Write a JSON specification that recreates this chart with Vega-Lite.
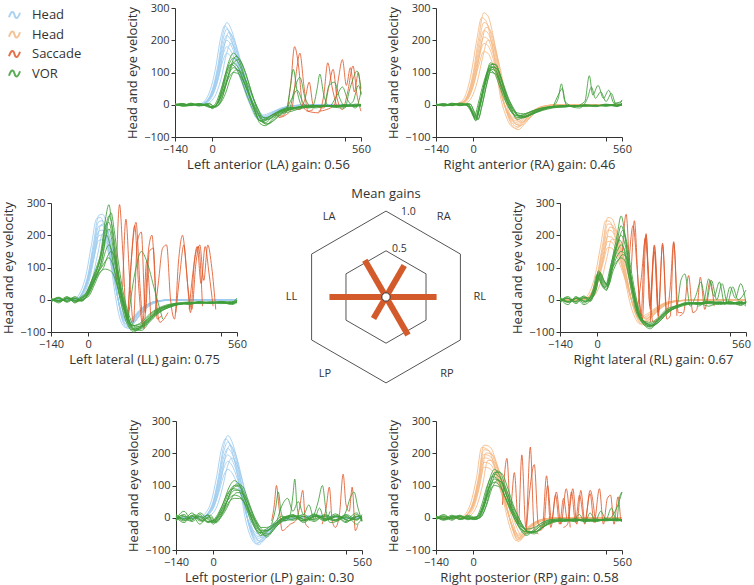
{
"$schema":"https://vega.github.io/schema/vega-lite/v6.json",
"padding":{"left":2,"top":2,"right":0,"bottom":3},
"config":{"font":"Open Sans","view":{"stroke":null},
 "axis":{"labelFont":"Open Sans","labelFontSize":11,"labelColor":"#333","titleFont":"Open Sans","titleFontSize":13,"titleFontWeight":"normal","titleColor":"#333","domainColor":"#333","tickColor":"#333","tickSize":4,"labelPadding":2,"grid":false,"labelFlush":false,"labelOverlap":false,"titlePadding":4},
 "legend":{"orient":"none","legendX":-43,"legendY":0.5,"symbolType":"M-1,0.4C-0.6,-0.8,-0.2,-0.8,0,0C0.2,0.8,0.6,0.8,1,-0.4","symbolSize":121,"symbolStrokeWidth":2,"labelFontSize":13,"labelColor":"#333","labelFont":"Open Sans","rowPadding":4.5,"labelOffset":11,"padding":0}
},
"datasets":{
"traces":[
{"p":"LA","t":"HeadL","k":"h1","x":[-140,-80,-40,-20,0,20,40,55,70,90,110,130,150,170,190,220,260,320,400,480,560],"y":[0,0,3,13,46,115,217,255,237,184,115,46,0,-38,-51,-38,-15,-3,0,0,0]},
{"p":"LA","t":"HeadL","k":"h2","x":[-140,-80,-40,-20,0,20,40,55,70,90,110,130,150,170,190,220,260,320,400,480,560],"y":[0,0,2,12,42,106,200,235,219,169,106,42,0,-35,-47,-35,-14,-2,0,0,0]},
{"p":"LA","t":"HeadL","k":"h3","x":[-140,-80,-40,-20,0,20,40,55,70,90,110,130,150,170,190,220,260,320,400,480,560],"y":[0,0,2,11,39,97,183,215,200,155,97,39,0,-32,-43,-32,-13,-2,0,0,0]},
{"p":"LA","t":"HeadL","k":"h4","x":[-140,-80,-40,-20,0,20,40,55,70,90,110,130,150,170,190,220,260,320,400,480,560],"y":[0,0,2,10,36,90,170,200,186,144,90,36,0,-30,-40,-30,-12,-2,0,0,0]},
{"p":"LA","t":"HeadL","k":"h5","x":[-140,-80,-40,-20,0,20,40,55,70,90,110,130,150,170,190,220,260,320,400,480,560],"y":[0,0,2,9,32,81,153,180,167,130,81,32,0,-27,-36,-27,-11,-2,0,0,0]},
{"p":"LA","t":"HeadL","k":"h6","x":[-140,-80,-40,-20,0,20,40,55,70,90,110,130,150,170,190,220,260,320,400,480,560],"y":[0,0,2,8,29,72,136,160,149,115,72,29,0,-24,-32,-24,-10,-2,0,0,0]},
{"p":"LA","t":"HeadL","k":"h7","x":[-140,-88,-48,-28,-8,12,32,47,62,82,102,122,142,162,182,212,252,312,392,472,560],"y":[0,0,2,12,44,110,208,245,228,176,110,44,0,-37,-49,-37,-15,-2,0,0,0]},
{"p":"LA","t":"HeadL","k":"h8","x":[-140,-72,-32,-12,8,28,48,63,78,98,118,138,158,178,198,228,268,328,408,488,560],"y":[0,0,2,11,41,101,191,225,209,162,101,41,0,-34,-45,-34,-14,-2,0,0,0]},
{"p":"LA","t":"HeadL","k":"h9","x":[-140,-65,-25,-5,15,35,55,70,85,105,125,145,165,185,205,235,275,335,415,495,560],"y":[0,0,2,10,34,86,162,190,177,137,86,34,0,-29,-38,-29,-11,-2,0,0,0]},
{"p":"LA","t":"Saccade","k":"s1","x":[230,260,280,295,310,325,340,360,380],"y":[-30,-35,-20,60,180,120,0,-20,-15]},
{"p":"LA","t":"Saccade","k":"s2","x":[250,280,300,318,330,345,360,400,420,435,450,470],"y":[-40,-30,-10,110,160,60,-20,-25,30,130,60,-10]},
{"p":"LA","t":"Saccade","k":"s3","x":[400,430,460,475,490,505,520,535,550,560],"y":[-20,-15,0,80,140,60,115,40,100,30]},
{"p":"LA","t":"Saccade","k":"s4","x":[300,330,350,365,380,420,440,455,470,490,510,530,545,560],"y":[-10,-15,20,70,0,-10,60,110,20,-15,40,120,30,-20]},
{"p":"LA","t":"VOR","k":"v1","x":[-140,-110,-80,-50,-20,0,20,40,60,80,100,120,140,160,180,200,230,260,300,340,380,420,460,500,540,560],"y":[3,-4,5,-3,2,-12,8,62,128,160,140,92,35,-15,-58,-65,-42,-25,-15,-8,-5,-3,-6,0,-4,2]},
{"p":"LA","t":"VOR","k":"v2","x":[-140,-110,-80,-50,-20,0,20,40,60,80,100,120,140,160,180,200,230,260,300,340,380,420,460,500,540,560],"y":[-2,3,-3,4,-2,-8,4,55,118,145,128,85,30,-18,-50,-55,-35,-22,-12,-6,-8,-2,-4,-6,2,-3]},
{"p":"LA","t":"VOR","k":"v3","x":[-140,-110,-80,-50,-20,0,20,40,60,80,100,120,140,160,180,200,230,260,300,340,380,420,460,500,540,560],"y":[1,-2,2,-4,0,-10,5,50,105,130,112,72,25,-20,-50,-45,-30,-20,-12,-8,-5,-3,-5,0,-3,0]},
{"p":"LA","t":"VOR","k":"v4","x":[-140,-110,-80,-50,-20,0,20,40,60,80,100,120,140,160,180,200,230,260,300,340,380,420,460,500,540,560],"y":[-3,2,-1,3,-3,-6,2,40,90,115,105,70,28,-10,-40,-48,-35,-18,-10,-5,-2,-6,-2,-4,-1,-5]},
{"p":"LA","t":"VOR","k":"v5","x":[-140,-110,-80,-50,-20,0,20,40,60,80,100,120,140,160,180,200,230,260,300,340,380,420,460,500,540,560],"y":[2,-1,4,-2,3,-9,6,38,80,100,95,68,30,-5,-35,-40,-30,-15,-8,-10,-4,-2,-7,-3,-5,0]},
{"p":"LA","t":"VOR","k":"v6","x":[-140,-110,-80,-50,-20,0,20,40,60,80,100,120,140,160,180,200,230,260,300,340,380,420,460,500,540,560],"y":[0,3,-2,1,-4,-5,-2,30,85,130,140,110,60,10,-30,-60,-50,-30,-20,-10,-6,-4,-3,-2,-4,-2]},
{"p":"LA","t":"VOR","k":"v7","x":[-140,-100,-70,-40,-10,10,30,50,70,90,110,130,150,170,190,210,240,270,310,350,390,430,470,510,550,560],"y":[2,-5,3,-2,4,-8,6,55,120,150,132,88,32,-18,-55,-60,-40,-22,-12,-6,-4,-5,-2,-3,-1,0]},
{"p":"LA","t":"VOR","k":"v8","x":[-140,-118,-88,-58,-28,-8,12,32,52,72,92,112,132,152,172,192,222,252,292,332,372,412,452,492,532,560],"y":[-1,4,-3,2,-2,-9,3,45,100,125,110,72,26,-14,-45,-52,-33,-20,-10,-7,-3,-4,-5,-2,-3,-1]},
{"p":"LA","t":"VOR","k":"v9","x":[-140,-100,-70,-40,-10,10,30,50,70,90,110,130,150,170,190,210,240,270,310,350,390,430,470,510,550,560],"y":[3,-2,1,-3,2,-6,4,35,85,108,100,70,30,-8,-38,-45,-32,-16,-9,-4,-6,-2,-3,-5,-2,-4]},
{"p":"LA","t":"VOR","k":"b1","x":[260,280,295,305,320,340,380,395,405,420,440,500,515,530,545,560],"y":[-20,-10,60,110,40,-5,0,50,95,30,-5,-10,40,80,105,50]},
{"p":"LA","t":"VOR","k":"b2","x":[260,290,310,330,350,380,420,440,460,480,500,530,550,560],"y":[-25,-15,50,85,20,-10,-5,60,70,20,-5,10,60,35]},
{"p":"LA","t":"VOR","k":"b3","x":[280,300,320,340,360,400,440,470,490,510,540,560],"y":[-15,20,45,10,-10,-5,-5,30,55,15,-10,40]},

{"p":"RA","t":"HeadR","k":"h1","x":[-140,-80,-40,-20,0,20,40,55,70,90,110,130,150,170,190,220,260,320,400,480,560],"y":[0,0,9,34,100,205,285,276,234,143,29,-34,-68,-77,-63,-34,-9,0,0,0,0]},
{"p":"RA","t":"HeadR","k":"h2","x":[-140,-80,-40,-20,0,20,40,55,70,90,110,130,150,170,190,220,260,320,400,480,560],"y":[0,0,8,31,89,184,255,247,209,128,26,-31,-61,-69,-56,-31,-8,0,0,0,0]},
{"p":"RA","t":"HeadR","k":"h3","x":[-140,-80,-40,-20,0,20,40,55,70,90,110,130,150,170,190,220,260,320,400,480,560],"y":[0,0,7,28,81,166,230,223,189,115,23,-28,-55,-62,-51,-28,-7,0,0,0,0]},
{"p":"RA","t":"HeadR","k":"h4","x":[-140,-80,-40,-20,0,20,40,55,70,90,110,130,150,170,190,220,260,320,400,480,560],"y":[0,0,6,25,74,151,210,204,172,105,21,-25,-50,-57,-46,-25,-6,0,0,0,0]},
{"p":"RA","t":"HeadR","k":"h5","x":[-140,-80,-40,-20,0,20,40,55,70,90,110,130,150,170,190,220,260,320,400,480,560],"y":[0,0,6,23,67,137,190,184,156,95,19,-23,-46,-51,-42,-23,-6,0,0,0,0]},
{"p":"RA","t":"HeadR","k":"h6","x":[-140,-80,-40,-20,0,20,40,55,70,90,110,130,150,170,190,220,260,320,400,480,560],"y":[0,0,5,20,58,119,165,160,135,83,17,-20,-40,-45,-36,-20,-5,0,0,0,0]},
{"p":"RA","t":"HeadR","k":"h7","x":[-140,-88,-48,-28,-8,12,32,47,62,82,102,122,142,162,182,212,252,312,392,472,560],"y":[0,0,8,32,95,194,270,262,221,135,27,-32,-65,-73,-59,-32,-8,0,0,0,0]},
{"p":"RA","t":"HeadR","k":"h8","x":[-140,-72,-32,-12,8,28,48,63,78,98,118,138,158,178,198,228,268,328,408,488,560],"y":[0,0,7,29,84,173,240,233,197,120,24,-29,-58,-65,-53,-29,-7,0,0,0,0]},
{"p":"RA","t":"HeadR","k":"h9","x":[-140,-65,-25,-5,15,35,55,70,85,105,125,145,165,185,205,235,275,335,415,495,560],"y":[0,0,6,24,70,144,200,194,164,100,20,-24,-48,-54,-44,-24,-6,0,0,0,0]},
{"p":"RA","t":"VOR","k":"v1","x":[-140,-110,-80,-50,-20,-5,10,25,45,65,85,105,125,145,165,190,220,260,300,340,380,420,460,500,540,560],"y":[3,-4,5,-2,4,-25,-50,-5,75,130,110,60,15,-20,-40,-38,-25,-12,-5,-3,-6,0,-4,2,-5,5]},
{"p":"RA","t":"VOR","k":"v2","x":[-140,-110,-80,-50,-20,-5,10,25,45,65,85,105,125,145,165,190,220,260,300,340,380,420,460,500,540,560],"y":[-2,3,-3,4,-3,-20,-45,0,80,120,100,55,10,-25,-35,-30,-20,-10,-8,-5,-2,-4,-2,-3,3,-2]},
{"p":"RA","t":"VOR","k":"v3","x":[-140,-110,-80,-50,-20,-5,10,25,45,65,85,105,125,145,165,190,220,260,300,340,380,420,460,500,540,560],"y":[1,-2,2,-3,2,-18,-40,5,70,110,105,65,20,-15,-30,-35,-28,-15,-6,-4,-5,-2,-6,0,-3,4]},
{"p":"RA","t":"VOR","k":"v4","x":[-140,-110,-80,-50,-20,-5,10,25,45,65,85,105,125,145,165,190,220,260,300,340,380,420,460,500,540,560],"y":[-3,2,-1,5,-1,-22,-48,-10,60,125,125,80,25,-15,-45,-40,-30,-15,-7,-8,-3,-3,-1,-5,2,-1]},
{"p":"RA","t":"VOR","k":"v5","x":[-140,-110,-80,-50,-20,-5,10,25,45,65,85,105,125,145,165,190,220,260,300,340,380,420,460,500,540,560],"y":[2,-1,4,-2,3,-15,-35,10,65,100,95,60,18,-10,-25,-28,-20,-10,-5,-3,-4,-1,-3,-2,-4,0]},
{"p":"RA","t":"VOR","k":"v6","x":[-140,-110,-80,-50,-20,-5,10,25,45,65,85,105,125,145,165,190,220,260,300,340,380,420,460,500,540,560],"y":[0,3,-2,2,-4,-20,-42,-3,72,115,115,75,30,-5,-30,-40,-30,-18,-10,-6,-3,-5,-2,-3,-2,3]},
{"p":"RA","t":"VOR","k":"v7","x":[-140,-102,-72,-42,-12,3,18,33,53,73,93,113,133,153,173,198,228,268,308,348,388,428,468,508,548,560],"y":[2,-3,4,-2,3,-22,-47,-4,72,128,112,62,16,-18,-38,-36,-24,-12,-6,-3,-5,-1,-3,1,-4,2]},
{"p":"RA","t":"VOR","k":"v8","x":[-140,-116,-86,-56,-26,-11,4,19,39,59,79,99,119,139,159,184,214,254,294,334,374,414,454,494,534,560],"y":[-1,2,-2,3,-2,-17,-38,4,68,108,98,58,15,-16,-32,-33,-24,-12,-6,-5,-3,-2,-4,-1,-2,0]},
{"p":"RA","t":"VOR","k":"v9","x":[-140,-102,-72,-42,-12,3,18,33,53,73,93,113,133,153,173,198,228,268,308,348,388,428,468,508,548,560],"y":[1,-2,3,-1,2,-19,-44,-2,70,118,108,66,20,-12,-35,-37,-26,-14,-7,-4,-4,-3,-3,-2,-3,1]},
{"p":"RA","t":"VOR","k":"b1","x":[300,320,332,345,380,420,437,450,470,490,510,530,560],"y":[-5,20,65,10,-5,10,90,30,60,20,45,5,10]},
{"p":"RA","t":"VOR","k":"b2","x":[300,320,335,350,400,430,445,460,480,500,520,540,560],"y":[-8,30,50,0,-10,20,55,20,40,10,35,-5,15]},

{"p":"LL","t":"HeadL","k":"h1","x":[-140,-80,-40,-20,0,20,40,55,70,90,110,130,150,170,190,220,260,320,400,480,560],"y":[0,0,5,27,81,176,262,265,230,135,14,-68,-89,-76,-49,-22,-5,0,0,0,0]},
{"p":"LL","t":"HeadL","k":"h2","x":[-140,-80,-40,-20,0,20,40,55,70,90,110,130,150,170,190,220,260,320,400,480,560],"y":[0,0,5,25,75,163,243,245,213,125,13,-63,-83,-70,-45,-20,-5,0,0,0,0]},
{"p":"LL","t":"HeadL","k":"h3","x":[-140,-80,-40,-20,0,20,40,55,70,90,110,130,150,170,190,220,260,320,400,480,560],"y":[0,0,5,24,71,153,228,230,200,118,12,-59,-78,-66,-42,-19,-5,0,0,0,0]},
{"p":"LL","t":"HeadL","k":"h4","x":[-140,-80,-40,-20,0,20,40,55,70,90,110,130,150,170,190,220,260,320,400,480,560],"y":[0,0,4,22,66,143,213,216,187,110,11,-55,-73,-62,-40,-18,-4,0,0,0,0]},
{"p":"LL","t":"HeadL","k":"h5","x":[-140,-80,-40,-20,0,20,40,55,70,90,110,130,150,170,190,220,260,320,400,480,560],"y":[0,0,4,21,62,133,199,201,174,103,10,-51,-68,-57,-37,-16,-4,0,0,0,0]},
{"p":"LL","t":"HeadL","k":"h6","x":[-140,-80,-40,-20,0,20,40,55,70,90,110,130,150,170,190,220,260,320,400,480,560],"y":[0,0,4,19,57,124,184,186,162,95,10,-48,-63,-53,-34,-15,-4,0,0,0,0]},
{"p":"LL","t":"HeadL","k":"h7","x":[-140,-88,-48,-28,-8,12,32,47,62,82,102,122,142,162,182,212,252,312,392,472,560],"y":[0,0,5,26,78,169,252,255,221,130,13,-65,-86,-73,-47,-21,-5,0,0,0,0]},
{"p":"LL","t":"HeadL","k":"h8","x":[-140,-72,-32,-12,8,28,48,63,78,98,118,138,158,178,198,228,268,328,408,488,560],"y":[0,0,5,24,72,156,233,235,204,120,12,-60,-79,-67,-43,-19,-5,0,0,0,0]},
{"p":"LL","t":"HeadL","k":"h9","x":[-140,-65,-25,-5,15,35,55,70,85,105,125,145,165,185,205,235,275,335,415,495,560],"y":[0,0,4,21,64,138,206,208,180,106,11,-53,-70,-59,-38,-17,-4,0,0,0,0]},
{"p":"LL","t":"Saccade","k":"s1","x":[105,118,130,145,160,175,190,205,220,235],"y":[60,295,150,-60,100,230,40,-80,120,-50]},
{"p":"LL","t":"Saccade","k":"s2","x":[130,142,155,170,185,200,215,230,245,260,275],"y":[40,250,80,-70,180,210,-40,150,160,-60,-50]},
{"p":"LL","t":"Saccade","k":"s3","x":[150,165,180,195,210,225,240,255,270,285,300],"y":[-60,150,240,40,-90,140,200,10,-70,-60,-40]},
{"p":"LL","t":"Saccade","k":"s4","x":[250,265,280,295,310,325,340,355,370,385,400,415,430],"y":[-50,60,160,170,0,-60,120,200,90,-40,120,165,-20]},
{"p":"LL","t":"Saccade","k":"s5","x":[330,345,360,375,390,405,420,435,450,465,480],"y":[-40,80,170,40,-30,110,170,60,170,100,-30]},
{"p":"LL","t":"Saccade","k":"s6","x":[380,395,410,425,440,455,470],"y":[-30,90,165,50,165,80,-20]},
{"p":"LL","t":"VOR","k":"v1","x":[-140,-110,-80,-50,-25,-5,15,35,50,65,78,90,105,120,135,150,170,200,230,260,300,340,380,420,460,500,540,560],"y":[5,-10,8,-5,5,20,60,100,160,250,295,220,120,40,-20,-60,-80,-75,-55,-35,-20,-12,-10,-8,-12,-6,-10,-5]},
{"p":"LL","t":"VOR","k":"v2","x":[-140,-110,-80,-50,-25,-5,15,35,50,65,78,90,105,120,135,150,170,200,230,260,300,340,380,420,460,500,540,560],"y":[-5,8,-6,10,-3,15,55,95,140,220,260,230,140,50,-10,-55,-85,-80,-60,-40,-25,-15,-8,-12,-10,-8,-15,-8]},
{"p":"LL","t":"VOR","k":"v3","x":[-140,-110,-80,-50,-25,-5,15,35,50,65,78,90,105,120,135,150,170,200,230,260,300,340,380,420,460,500,540,560],"y":[3,-5,5,-8,8,18,50,85,120,190,220,180,100,30,-20,-65,-95,-90,-65,-40,-22,-10,-12,-6,-9,-12,-8,5]},
{"p":"LL","t":"VOR","k":"v4","x":[-140,-110,-80,-50,-25,-5,15,35,50,65,78,90,105,120,135,150,170,200,230,260,300,340,380,420,460,500,540,560],"y":[-8,5,-4,6,-2,12,45,80,105,150,170,150,90,25,-25,-70,-90,-85,-60,-35,-20,-15,-10,-10,-7,-9,-12,-6]},
{"p":"LL","t":"VOR","k":"v5","x":[-140,-110,-80,-50,-25,-5,15,35,50,65,78,90,105,120,135,150,170,200,230,260,300,340,380,420,460,500,540,560],"y":[4,-3,10,-10,5,15,50,85,100,120,130,115,70,15,-30,-75,-100,-80,-50,-30,-18,-12,-15,-8,-10,-5,-10,0]},
{"p":"LL","t":"VOR","k":"v6","x":[-140,-110,-80,-50,-25,-5,15,35,50,65,78,90,105,120,135,150,170,200,230,260,300,340,380,420,460,500,540,560],"y":[-3,6,-8,4,-5,10,40,75,90,95,92,85,55,10,-35,-70,-80,-70,-45,-28,-15,-10,-7,-10,-6,-8,-5,-10]},
{"p":"LL","t":"VOR","k":"v7","x":[-140,-110,-80,-50,-25,-5,15,35,50,65,78,90,105,120,135,150,170,200,230,260,300,340,380,420,460,500,540,560],"y":[0,-6,4,-3,10,25,65,110,150,230,240,200,110,35,-15,-60,-90,-95,-70,-45,-25,-14,-10,-6,-11,-7,-12,-3]},
{"p":"LL","t":"VOR","k":"v8","x":[-140,-102,-72,-42,-17,3,23,43,58,73,86,98,113,128,143,158,178,208,238,268,308,348,388,428,468,508,548,560],"y":[2,-4,6,-3,4,18,58,98,150,235,270,215,120,40,-18,-58,-85,-82,-60,-38,-22,-13,-9,-8,-10,-7,-11,-4]},
{"p":"LL","t":"VOR","k":"v9","x":[-140,-118,-88,-58,-33,-13,7,27,42,57,70,82,97,112,127,142,162,192,222,252,292,332,372,412,452,492,532,560],"y":[-2,5,-3,6,-1,14,48,85,115,170,200,170,100,32,-22,-66,-92,-88,-62,-37,-20,-12,-11,-7,-9,-10,-9,-2]},
{"p":"LL","t":"VOR","k":"v10","x":[-140,-102,-72,-42,-17,3,23,43,58,73,86,98,113,128,143,158,178,208,238,268,308,348,388,428,468,508,548,560],"y":[3,-2,5,-6,3,12,46,82,100,135,150,135,82,22,-28,-72,-95,-82,-55,-32,-18,-13,-12,-9,-8,-7,-10,-3]},
{"p":"LL","t":"VOR","k":"b1","x":[150,180,200,220,250,280],"y":[-60,100,150,120,30,-60]},

{"p":"RL","t":"HeadR","k":"h1","x":[-140,-80,-40,-20,0,20,40,55,70,90,110,130,150,170,190,220,260,320,400,480,560],"y":[0,0,5,26,78,169,255,252,221,156,78,-5,-57,-78,-68,-39,-13,-3,0,0,0]},
{"p":"RL","t":"HeadR","k":"h2","x":[-140,-80,-40,-20,0,20,40,55,70,90,110,130,150,170,190,220,260,320,400,480,560],"y":[0,0,5,24,72,156,235,233,204,144,72,-5,-53,-72,-62,-36,-12,-2,0,0,0]},
{"p":"RL","t":"HeadR","k":"h3","x":[-140,-80,-40,-20,0,20,40,55,70,90,110,130,150,170,190,220,260,320,400,480,560],"y":[0,0,4,22,66,143,216,213,187,132,66,-4,-48,-66,-57,-33,-11,-2,0,0,0]},
{"p":"RL","t":"HeadR","k":"h4","x":[-140,-80,-40,-20,0,20,40,55,70,90,110,130,150,170,190,220,260,320,400,480,560],"y":[0,0,4,20,60,130,196,194,170,120,60,-4,-44,-60,-52,-30,-10,-2,0,0,0]},
{"p":"RL","t":"HeadR","k":"h5","x":[-140,-80,-40,-20,0,20,40,55,70,90,110,130,150,170,190,220,260,320,400,480,560],"y":[0,0,4,19,56,120,181,179,157,111,56,-4,-41,-56,-48,-28,-9,-2,0,0,0]},
{"p":"RL","t":"HeadR","k":"h6","x":[-140,-80,-40,-20,0,20,40,55,70,90,110,130,150,170,190,220,260,320,400,480,560],"y":[0,0,3,17,50,107,162,160,140,99,50,-3,-36,-50,-43,-25,-8,-2,0,0,0]},
{"p":"RL","t":"HeadR","k":"h7","x":[-140,-88,-48,-28,-8,12,32,47,62,82,102,122,142,162,182,212,252,312,392,472,560],"y":[0,0,5,25,75,163,245,243,213,150,75,-5,-55,-75,-65,-38,-13,-3,0,0,0]},
{"p":"RL","t":"HeadR","k":"h8","x":[-140,-72,-32,-12,8,28,48,63,78,98,118,138,158,178,198,228,268,328,408,488,560],"y":[0,0,5,23,69,150,225,223,196,138,69,-5,-51,-69,-60,-35,-12,-2,0,0,0]},
{"p":"RL","t":"HeadR","k":"h9","x":[-140,-65,-25,-5,15,35,55,70,85,105,125,145,165,185,205,235,275,335,415,495,560],"y":[0,0,4,19,58,125,188,186,163,115,58,-4,-42,-58,-50,-29,-10,-2,0,0,0]},
{"p":"RL","t":"Saccade","k":"s1","x":[95,109,125,140,155,170,184,198,215,230],"y":[150,265,80,245,40,-60,205,-20,170,-60]},
{"p":"RL","t":"Saccade","k":"s2","x":[150,165,184,200,215,230,246,262,275,288,300],"y":[-40,60,200,-30,165,-50,175,-40,40,180,-50]},
{"p":"RL","t":"Saccade","k":"s3","x":[200,215,230,246,262,275,288,305,320],"y":[-70,150,-40,170,-60,-50,175,-40,-40]},
{"p":"RL","t":"Saccade","k":"s4","x":[310,325,344,360,375,388,405,425,440],"y":[-50,-40,75,-40,-30,70,-30,60,-20]},
{"p":"RL","t":"Saccade","k":"s5","x":[120,135,150,165,180,195,210,225],"y":[120,230,100,-50,190,60,-70,-60]},
{"p":"RL","t":"VOR","k":"v1","x":[-140,-110,-80,-50,-25,-10,5,20,35,55,75,90,105,120,135,150,170,200,230,260,300,340,380,420,460,500,540,560],"y":[5,-15,10,-10,10,40,85,60,45,120,200,260,200,110,30,-30,-70,-80,-65,-40,-25,-15,-10,-20,-8,-12,-5,-15]},
{"p":"RL","t":"VOR","k":"v2","x":[-140,-110,-80,-50,-25,-10,5,20,35,55,75,90,105,120,135,150,170,200,230,260,300,340,380,420,460,500,540,560],"y":[-10,5,-12,8,5,35,80,55,40,110,170,200,170,100,30,-25,-65,-75,-60,-35,-20,-10,-15,-8,-12,-5,-18,-6]},
{"p":"RL","t":"VOR","k":"v3","x":[-140,-110,-80,-50,-25,-10,5,20,35,55,75,90,105,120,135,150,170,200,230,260,300,340,380,420,460,500,540,560],"y":[8,-5,5,-15,0,30,75,50,35,100,150,170,150,90,25,-30,-60,-85,-70,-45,-22,-12,-8,-12,-15,-10,-8,-12]},
{"p":"RL","t":"VOR","k":"v4","x":[-140,-110,-80,-50,-25,-10,5,20,35,55,75,90,105,120,135,150,170,200,230,260,300,340,380,420,460,500,540,560],"y":[-5,10,-8,5,-5,28,70,45,30,90,135,150,140,85,20,-35,-70,-90,-60,-38,-18,-14,-12,-5,-10,-14,-10,-20]},
{"p":"RL","t":"VOR","k":"v5","x":[-140,-110,-80,-50,-25,-10,5,20,35,55,75,90,105,120,135,150,170,200,230,260,300,340,380,420,460,500,540,560],"y":[3,-8,6,-5,8,32,90,65,50,95,120,130,120,70,15,-35,-65,-70,-55,-30,-18,-8,-14,-10,-6,-12,-15,-8]},
{"p":"RL","t":"VOR","k":"v6","x":[-140,-110,-80,-50,-25,-10,5,20,35,55,75,90,105,120,135,150,170,200,230,260,300,340,380,420,460,500,540,560],"y":[-3,5,-6,12,-3,25,65,40,30,100,180,230,190,105,35,-25,-68,-82,-70,-42,-22,-12,-10,-6,-10,-8,-12,-4]},
{"p":"RL","t":"VOR","k":"v7","x":[-140,-104,-74,-44,-19,-4,11,26,41,61,81,96,111,126,141,156,176,206,236,266,306,346,386,426,466,506,546,560],"y":[4,-8,7,-6,6,32,82,58,42,112,185,215,180,100,30,-28,-68,-80,-66,-40,-22,-12,-12,-10,-9,-10,-8,-10]},
{"p":"RL","t":"VOR","k":"v8","x":[-140,-116,-86,-56,-31,-16,-1,14,29,49,69,84,99,114,129,144,164,194,224,254,294,334,374,414,454,494,534,560],"y":[-4,6,-6,9,2,30,78,52,38,100,160,185,160,95,26,-30,-66,-84,-66,-40,-20,-12,-10,-9,-12,-10,-12,-8]},
{"p":"RL","t":"VOR","k":"v9","x":[-140,-104,-74,-44,-19,-4,11,26,41,61,81,96,111,126,141,156,176,206,236,266,306,346,386,426,466,506,546,560],"y":[2,-6,5,-4,5,30,85,60,45,92,125,140,130,78,18,-34,-68,-78,-58,-34,-18,-10,-12,-8,-8,-12,-10,-12]},
{"p":"RL","t":"VOR","k":"b1","x":[280,300,315,330,350,370,390,410,430,450,470,490,510,530,560],"y":[-30,-20,60,80,-20,10,55,-10,60,0,50,-10,40,0,30]},
{"p":"RL","t":"VOR","k":"b2","x":[380,400,420,440,460,480,500,520,540,560],"y":[-20,-10,65,10,55,-15,40,5,50,-10]},

{"p":"LP","t":"HeadL","k":"h1","x":[-140,-80,-40,-20,0,20,40,55,70,90,110,130,150,170,190,220,260,320,400,480,560],"y":[0,0,3,15,51,128,224,255,237,179,89,-8,-64,-84,-71,-38,-10,0,8,0,0]},
{"p":"LP","t":"HeadL","k":"h2","x":[-140,-80,-40,-20,0,20,40,55,70,90,110,130,150,170,190,220,260,320,400,480,560],"y":[0,0,2,14,47,118,207,235,219,165,82,-7,-59,-78,-66,-35,-9,0,7,0,0]},
{"p":"LP","t":"HeadL","k":"h3","x":[-140,-80,-40,-20,0,20,40,55,70,90,110,130,150,170,190,220,260,320,400,480,560],"y":[0,0,2,13,43,108,189,215,200,151,75,-6,-54,-71,-60,-32,-9,0,6,0,0]},
{"p":"LP","t":"HeadL","k":"h4","x":[-140,-80,-40,-20,0,20,40,55,70,90,110,130,150,170,190,220,260,320,400,480,560],"y":[0,0,2,12,39,98,172,195,181,137,68,-6,-49,-64,-55,-29,-8,0,6,0,0]},
{"p":"LP","t":"HeadL","k":"h5","x":[-140,-80,-40,-20,0,20,40,55,70,90,110,130,150,170,190,220,260,320,400,480,560],"y":[0,0,2,11,35,88,154,175,163,123,61,-5,-44,-58,-49,-26,-7,0,5,0,0]},
{"p":"LP","t":"HeadL","k":"h6","x":[-140,-80,-40,-20,0,20,40,55,70,90,110,130,150,170,190,220,260,320,400,480,560],"y":[0,0,2,9,30,75,132,150,140,105,53,-5,-38,-50,-42,-23,-6,0,5,0,0]},
{"p":"LP","t":"HeadL","k":"h7","x":[-140,-88,-48,-28,-8,12,32,47,62,82,102,122,142,162,182,212,252,312,392,472,560],"y":[0,0,2,15,49,123,216,245,228,172,86,-7,-61,-81,-69,-37,-10,0,7,0,0]},
{"p":"LP","t":"HeadL","k":"h8","x":[-140,-72,-32,-12,8,28,48,63,78,98,118,138,158,178,198,228,268,328,408,488,560],"y":[0,0,2,14,45,113,198,225,209,158,79,-7,-56,-74,-63,-34,-9,0,7,0,0]},
{"p":"LP","t":"HeadL","k":"h9","x":[-140,-65,-25,-5,15,35,55,70,85,105,125,145,165,185,205,235,275,335,415,495,560],"y":[0,0,2,11,37,93,163,185,172,130,65,-6,-46,-61,-52,-28,-7,0,6,0,0]},
{"p":"LP","t":"Saccade","k":"s1","x":[220,230,238,248,260,290,310,325,337,348,360],"y":[-10,40,100,30,-40,-20,-10,30,85,-20,-30]},
{"p":"LP","t":"Saccade","k":"s2","x":[410,425,437,448,460,475,489,500,512,523,535,545],"y":[-20,30,95,-10,-30,10,135,40,20,95,-40,-20]},
{"p":"LP","t":"VOR","k":"v1","x":[-140,-110,-80,-50,-20,0,20,40,60,80,100,120,140,160,180,200,230,260,300,340,380,420,460,500,540,560],"y":[5,-10,8,-20,10,-15,10,50,95,115,100,55,5,-35,-55,-45,-20,-5,10,-15,5,-10,8,-12,5,-5]},
{"p":"LP","t":"VOR","k":"v2","x":[-140,-110,-80,-50,-20,0,20,40,60,80,100,120,140,160,180,200,230,260,300,340,380,420,460,500,540,560],"y":[-8,10,-12,5,-15,-10,5,40,80,100,95,60,10,-30,-50,-55,-30,-10,-5,10,-8,6,-10,4,-8,10]},
{"p":"LP","t":"VOR","k":"v3","x":[-140,-110,-80,-50,-20,0,20,40,60,80,100,120,140,160,180,200,230,260,300,340,380,420,460,500,540,560],"y":[10,-5,15,-10,0,-20,0,30,65,85,85,55,15,-20,-45,-40,-25,0,8,-10,12,-5,5,-15,10,-10]},
{"p":"LP","t":"VOR","k":"v4","x":[-140,-110,-80,-50,-20,0,20,40,60,80,100,120,140,160,180,200,230,260,300,340,380,420,460,500,540,560],"y":[-5,20,-8,10,-12,-8,8,35,60,70,65,40,5,-25,-40,-35,-15,5,-8,5,-12,10,-6,8,-20,0]},
{"p":"LP","t":"VOR","k":"v5","x":[-140,-110,-80,-50,-20,0,20,40,60,80,100,120,140,160,180,200,230,260,300,340,380,420,460,500,540,560],"y":[3,-15,5,-5,8,-12,2,25,70,95,100,70,25,-15,-40,-60,-35,-8,5,-5,10,-8,12,-5,15,-12]},
{"p":"LP","t":"VOR","k":"v6","x":[-140,-110,-80,-50,-20,0,20,40,60,80,100,120,140,160,180,200,230,260,300,340,380,420,460,500,540,560],"y":[-10,5,-3,15,-5,-15,-5,20,50,60,60,45,15,-10,-30,-30,-20,-5,0,-10,5,-3,-8,10,-5,5]},
{"p":"LP","t":"VOR","k":"v7","x":[-140,-100,-70,-40,-10,10,30,50,70,90,110,130,150,170,190,210,240,270,310,350,390,430,470,510,550,560],"y":[4,-8,6,-12,8,-12,6,45,88,105,98,58,10,-30,-50,-50,-25,-5,6,-8,4,-6,6,-8,6,-4]},
{"p":"LP","t":"VOR","k":"v8","x":[-140,-118,-88,-58,-28,-8,12,32,52,72,92,112,132,152,172,192,222,252,292,332,372,412,452,492,532,560],"y":[-6,8,-10,6,-10,-12,4,35,72,90,88,58,12,-25,-46,-45,-28,-4,4,6,-6,4,-8,2,-6,6]},
{"p":"LP","t":"VOR","k":"v9","x":[-140,-100,-70,-40,-10,10,30,50,70,90,110,130,150,170,190,210,240,270,310,350,390,430,470,510,550,560],"y":[8,-4,10,-8,2,-16,2,28,62,78,76,50,12,-20,-40,-38,-20,2,5,-6,8,-4,4,-10,6,-6]},
{"p":"LP","t":"VOR","k":"b1","x":[220,235,245,255,270,290,300,307,315,330,350],"y":[-20,30,80,20,-10,10,70,120,40,-10,-5]},
{"p":"LP","t":"VOR","k":"b2","x":[360,380,395,411,425,440,480,500,515,530,545,560],"y":[-10,10,50,100,20,-15,-5,20,60,80,30,-10]},
{"p":"LP","t":"VOR","k":"b3","x":[240,260,280,300,320,340,360,380,400,420,440],"y":[-10,40,60,20,50,10,40,-5,30,-10,20]},

{"p":"RP","t":"HeadR","k":"h1","x":[-140,-80,-40,-20,0,20,40,55,70,90,110,130,150,170,190,220,260,320,400,480,560],"y":[0,0,2,14,51,127,225,223,212,161,97,23,-41,-74,-58,-28,-7,0,0,0,0]},
{"p":"RP","t":"HeadR","k":"h2","x":[-140,-80,-40,-20,0,20,40,55,70,90,110,130,150,170,190,220,260,320,400,480,560],"y":[0,0,2,13,47,118,211,209,198,151,90,22,-39,-69,-54,-26,-6,0,0,0,0]},
{"p":"RP","t":"HeadR","k":"h3","x":[-140,-80,-40,-20,0,20,40,55,70,90,110,130,150,170,190,220,260,320,400,480,560],"y":[0,0,2,12,44,110,196,194,184,140,84,20,-36,-64,-50,-24,-6,0,0,0,0]},
{"p":"RP","t":"HeadR","k":"h4","x":[-140,-80,-40,-20,0,20,40,55,70,90,110,130,150,170,190,220,260,320,400,480,560],"y":[0,0,2,11,42,105,186,184,175,133,80,19,-34,-61,-48,-23,-6,0,0,0,0]},
{"p":"RP","t":"HeadR","k":"h5","x":[-140,-80,-40,-20,0,20,40,55,70,90,110,130,150,170,190,220,260,320,400,480,560],"y":[0,0,2,11,39,96,172,170,161,123,74,18,-32,-56,-44,-21,-5,0,0,0,0]},
{"p":"RP","t":"HeadR","k":"h6","x":[-140,-80,-40,-20,0,20,40,55,70,90,110,130,150,170,190,220,260,320,400,480,560],"y":[0,0,2,10,35,88,157,155,147,112,67,16,-29,-51,-40,-19,-5,0,0,0,0]},
{"p":"RP","t":"HeadR","k":"h7","x":[-140,-88,-48,-28,-8,12,32,47,62,82,102,122,142,162,182,212,252,312,392,472,560],"y":[0,0,2,13,49,122,218,215,204,155,93,22,-40,-71,-56,-27,-7,0,0,0,0]},
{"p":"RP","t":"HeadR","k":"h8","x":[-140,-72,-32,-12,8,28,48,63,78,98,118,138,158,178,198,228,268,328,408,488,560],"y":[0,0,2,12,45,113,201,199,189,144,86,21,-37,-66,-51,-25,-6,0,0,0,0]},
{"p":"RP","t":"HeadR","k":"h9","x":[-140,-65,-25,-5,15,35,55,70,85,105,125,145,165,185,205,235,275,335,415,495,560],"y":[0,0,2,11,40,100,178,177,167,127,76,18,-33,-58,-46,-22,-5,0,0,0,0]},
{"p":"RP","t":"Saccade","k":"s1","x":[110,127,140,155,170,183,198,215,230,245],"y":[40,184,30,140,-20,195,-30,219,-40,-50]},
{"p":"RP","t":"Saccade","k":"s2","x":[200,215,230,245,260,276,292,313,330,350,365],"y":[-40,100,165,-20,-30,130,-30,80,-20,90,-30]},
{"p":"RP","t":"Saccade","k":"s3","x":[340,355,375,390,405,420,440,455,475,490,505,517,530,545,555],"y":[-30,-20,90,-20,85,-10,75,-15,90,-20,60,70,-20,65,-10]},
{"p":"RP","t":"Saccade","k":"s4","x":[250,265,280,295,310,325,340,355,370,385,400,420,440,460],"y":[-40,-30,100,-10,70,-20,60,-10,80,-15,70,-20,85,-15]},
{"p":"RP","t":"VOR","k":"v1","x":[-140,-110,-80,-50,-20,0,20,40,60,80,100,120,140,160,180,200,230,260,300,340,380,420,460,500,540,560],"y":[3,-8,5,-5,8,-2,5,50,115,150,130,85,35,-5,-35,-50,-40,-20,-8,-10,-5,-12,-6,-8,-3,-10]},
{"p":"RP","t":"VOR","k":"v2","x":[-140,-110,-80,-50,-20,0,20,40,60,80,100,120,140,160,180,200,230,260,300,340,380,420,460,500,540,560],"y":[-5,6,-3,8,-4,0,2,40,100,135,125,85,40,0,-30,-45,-45,-25,-10,-5,-12,-4,-10,-5,-8,-5]},
{"p":"RP","t":"VOR","k":"v3","x":[-140,-110,-80,-50,-20,0,20,40,60,80,100,120,140,160,180,200,230,260,300,340,380,420,460,500,540,560],"y":[5,-3,8,-6,3,-5,0,35,90,120,115,80,40,5,-25,-40,-50,-30,-12,-8,-3,-8,-12,-6,-10,-8]},
{"p":"RP","t":"VOR","k":"v4","x":[-140,-110,-80,-50,-20,0,20,40,60,80,100,120,140,160,180,200,230,260,300,340,380,420,460,500,540,560],"y":[-3,10,-5,4,-6,-3,8,45,95,110,100,65,25,-10,-40,-55,-35,-15,-5,-12,-8,-5,-4,-10,-6,-12]},
{"p":"RP","t":"VOR","k":"v5","x":[-140,-110,-80,-50,-20,0,20,40,60,80,100,120,140,160,180,200,230,260,300,340,380,420,460,500,540,560],"y":[2,-5,3,-2,5,-6,-2,30,95,140,140,100,50,10,-20,-40,-45,-30,-15,-8,-6,-10,-8,-3,-5,-6]},
{"p":"RP","t":"VOR","k":"v6","x":[-140,-110,-80,-50,-20,0,20,40,60,80,100,120,140,160,180,200,230,260,300,340,380,420,460,500,540,560],"y":[-6,3,-8,6,-2,2,5,35,80,100,95,65,30,0,-25,-35,-30,-15,-5,-3,-10,-6,-5,-8,30,80]},
{"p":"RP","t":"VOR","k":"v7","x":[-140,-100,-70,-40,-10,10,30,50,70,90,110,130,150,170,190,210,240,270,310,350,390,430,470,510,550,560],"y":[2,-6,4,-4,6,-4,3,42,108,145,135,92,42,2,-28,-45,-42,-25,-10,-8,-6,-10,-7,-6,-4,-8]},
{"p":"RP","t":"VOR","k":"v8","x":[-140,-118,-88,-58,-28,-8,12,32,52,72,92,112,132,152,172,192,222,252,292,332,372,412,452,492,532,560],"y":[-4,5,-2,6,-3,-2,3,40,98,128,120,82,38,2,-28,-42,-44,-26,-10,-6,-9,-5,-9,-5,-7,-6]},
{"p":"RP","t":"VOR","k":"v9","x":[-140,-100,-70,-40,-10,10,30,50,70,90,110,130,150,170,190,210,240,270,310,350,390,430,470,510,550,560],"y":[4,-2,6,-4,2,-4,4,38,90,115,108,75,35,2,-30,-45,-42,-24,-9,-9,-5,-7,-9,-7,-8,-9]},
{"p":"RP","t":"VOR","k":"b1","x":[380,400,420,440,460,480,500,520,540,550,560],"y":[-10,10,-15,15,-10,20,-5,30,-10,60,80]}
],
"rings":[
{"ring":"1.0","o":0,"x":0,"y":1.1547},{"ring":"1.0","o":1,"x":1,"y":0.5774},{"ring":"1.0","o":2,"x":1,"y":-0.5774},{"ring":"1.0","o":3,"x":0,"y":-1.1547},{"ring":"1.0","o":4,"x":-1,"y":-0.5774},{"ring":"1.0","o":5,"x":-1,"y":0.5774},{"ring":"1.0","o":6,"x":0,"y":1.1547},
{"ring":"0.5","o":0,"x":0,"y":0.621},{"ring":"0.5","o":1,"x":0.538,"y":0.311},{"ring":"0.5","o":2,"x":0.538,"y":-0.311},{"ring":"0.5","o":3,"x":0,"y":-0.621},{"ring":"0.5","o":4,"x":-0.538,"y":-0.311},{"ring":"0.5","o":5,"x":-0.538,"y":0.311},{"ring":"0.5","o":6,"x":0,"y":0.621}
],
"bars":[
{"ax":"LA","gain":0.56,"x0":0,"y0":0,"x":-0.285,"y":0.494},{"ax":"RA","gain":0.46,"x0":0,"y0":0,"x":0.245,"y":0.424},{"ax":"LL","gain":0.75,"x0":0,"y0":0,"x":-0.76,"y":0},{"ax":"RL","gain":0.67,"x0":0,"y0":0,"x":0.68,"y":0},{"ax":"LP","gain":0.30,"x0":0,"y0":0,"x":-0.168,"y":-0.29},{"ax":"RP","gain":0.58,"x0":0,"y0":0,"x":0.295,"y":-0.511}
],
"rtext":[
{"lab":"LA","x":-0.766,"y":1.069,"kind":"ax"},{"lab":"RA","x":0.776,"y":1.069,"kind":"ax"},{"lab":"LL","x":-1.27,"y":0,"kind":"ax"},{"lab":"RL","x":1.26,"y":0,"kind":"ax"},{"lab":"LP","x":-0.82,"y":-1.03,"kind":"ax"},{"lab":"RP","x":0.82,"y":-1.03,"kind":"ax"},
{"lab":"1.0","x":0.2,"y":1.098,"kind":"tick"},{"lab":"0.5","x":0.08,"y":0.601,"kind":"tick"},
{"lab":"Mean gains","x":0,"y":1.331,"kind":"title"}
],
"blank":[{"b":0}]
},
"spacing":16,
"vconcat":[
{"hconcat":[
 {"width":49,"height":10,"data":{"name":"blank"},"mark":{"type":"point","opacity":0},"encoding":{}},
 {"width":186,"height":129,"data":{"name":"traces"},"transform":[{"filter":"datum.p === 'LA'"},{"flatten":["x","y"]}],
  "mark":{"type":"line","strokeWidth":1,"interpolate":"monotone","opacity":0.85},
  "encoding":{"x":{"field":"x","type":"quantitative","scale":{"domain":[-140,560],"nice":false,"zero":false},"axis":{"values":[-140,0,500,560],"labelExpr":"datum.value === 500 ? '' : datum.label","title":"Left anterior (LA) gain: 0.56"}},
   "y":{"field":"y","type":"quantitative","scale":{"domain":[-100,300],"nice":false},"axis":{"values":[-100,0,100,200,300],"title":"Head and eye velocity"}},
   "color":{"field":"t","type":"nominal","scale":{"domain":["HeadL","HeadR","Saccade","VOR"],"range":["#9dcbee","#f5b984","#e0592a","#3f9e3a"]},"legend":{"title":null,"labelExpr":"datum.label === 'HeadL' || datum.label === 'HeadR' ? 'Head' : datum.label"}},
   "detail":{"field":"k","type":"nominal"}}},
 {"width":186,"height":129,"data":{"name":"traces"},"transform":[{"filter":"datum.p === 'RA'"},{"flatten":["x","y"]}],
  "mark":{"type":"line","strokeWidth":1,"interpolate":"monotone","opacity":0.85},
  "encoding":{"x":{"field":"x","type":"quantitative","scale":{"domain":[-140,560],"nice":false,"zero":false},"axis":{"values":[-140,0,500,560],"labelExpr":"datum.value === 500 ? '' : datum.label","title":"Right anterior (RA) gain: 0.46"}},
   "y":{"field":"y","type":"quantitative","scale":{"domain":[-100,300],"nice":false},"axis":{"values":[-100,0,100,200,300],"title":"Head and eye velocity"}},
   "color":{"field":"t","type":"nominal","scale":{"domain":["HeadL","HeadR","Saccade","VOR"],"range":["#9dcbee","#f5b984","#e0592a","#3f9e3a"]},"legend":{"title":null,"labelExpr":"datum.label === 'HeadL' || datum.label === 'HeadR' ? 'Head' : datum.label"}},
   "detail":{"field":"k","type":"nominal"}}}
],"spacing":75,"bounds":"flush"},
{"hconcat":[
 {"width":186,"height":129,"data":{"name":"traces"},"transform":[{"filter":"datum.p === 'LL'"},{"flatten":["x","y"]}],
  "mark":{"type":"line","strokeWidth":1,"interpolate":"monotone","opacity":0.85},
  "encoding":{"x":{"field":"x","type":"quantitative","scale":{"domain":[-140,560],"nice":false,"zero":false},"axis":{"values":[-140,0,500,560],"labelExpr":"datum.value === 500 ? '' : datum.label","title":"Left lateral (LL) gain: 0.75"}},
   "y":{"field":"y","type":"quantitative","scale":{"domain":[-100,300],"nice":false},"axis":{"values":[-100,0,100,200,300],"title":"Head and eye velocity"}},
   "color":{"field":"t","type":"nominal","scale":{"domain":["HeadL","HeadR","Saccade","VOR"],"range":["#9dcbee","#f5b984","#e0592a","#3f9e3a"]},"legend":{"title":null,"labelExpr":"datum.label === 'HeadL' || datum.label === 'HeadR' ? 'Head' : datum.label"}},
   "detail":{"field":"k","type":"nominal"}}},
 {"width":323,"height":196,
  "layer":[
   {"data":{"name":"rings"},"mark":{"type":"line","color":"#555","strokeWidth":1},
    "encoding":{"x":{"field":"x","type":"quantitative","scale":{"domain":[-2.0027,2.3387],"nice":false,"zero":false},"axis":null},
     "y":{"field":"y","type":"quantitative","scale":{"domain":[-1.371,1.2634],"nice":false,"zero":false},"axis":null},
     "detail":{"field":"ring","type":"nominal"},"order":{"field":"o","type":"quantitative"}}},
   {"data":{"name":"bars"},"mark":{"type":"rule","color":"#d35a2a","strokeWidth":6,"strokeCap":"butt"},
    "encoding":{"x":{"field":"x0","type":"quantitative"},"y":{"field":"y0","type":"quantitative"},"x2":{"field":"x"},"y2":{"field":"y"}}},
   {"data":{"name":"blank"},"mark":{"type":"point","filled":true,"fill":"white","stroke":"#333","strokeWidth":1,"size":70,"opacity":1},
    "encoding":{"x":{"datum":0,"type":"quantitative"},"y":{"datum":0,"type":"quantitative"}}},
   {"data":{"name":"rtext"},"transform":[{"filter":"datum.kind === 'ax'"}],"mark":{"type":"text","fontSize":11,"color":"#333","align":"center","baseline":"middle"},
    "encoding":{"x":{"field":"x","type":"quantitative"},"y":{"field":"y","type":"quantitative"},"text":{"field":"lab","type":"nominal"}}},
   {"data":{"name":"rtext"},"transform":[{"filter":"datum.kind === 'tick'"}],"mark":{"type":"text","fontSize":10.5,"color":"#333","align":"left","baseline":"alphabetic"},
    "encoding":{"x":{"field":"x","type":"quantitative"},"y":{"field":"y","type":"quantitative"},"text":{"field":"lab","type":"nominal"}}},
   {"data":{"name":"rtext"},"transform":[{"filter":"datum.kind === 'title'"}],"mark":{"type":"text","fontSize":13,"color":"#333","align":"center","baseline":"alphabetic"},
    "encoding":{"x":{"field":"x","type":"quantitative"},"y":{"field":"y","type":"quantitative"},"text":{"field":"lab","type":"nominal"}}}
  ]},
 {"width":186,"height":129,"data":{"name":"traces"},"transform":[{"filter":"datum.p === 'RL'"},{"flatten":["x","y"]}],
  "mark":{"type":"line","strokeWidth":1,"interpolate":"monotone","opacity":0.85},
  "encoding":{"x":{"field":"x","type":"quantitative","scale":{"domain":[-140,560],"nice":false,"zero":false},"axis":{"values":[-140,0,500,560],"labelExpr":"datum.value === 500 ? '' : datum.label","labelOffset":{"condition":{"test":"datum.value === 560","value":-5},"value":0},"title":"Right lateral (RL) gain: 0.67"}},
   "y":{"field":"y","type":"quantitative","scale":{"domain":[-100,300],"nice":false},"axis":{"values":[-100,0,100,200,300],"title":"Head and eye velocity"}},
   "color":{"field":"t","type":"nominal","scale":{"domain":["HeadL","HeadR","Saccade","VOR"],"range":["#9dcbee","#f5b984","#e0592a","#3f9e3a"]},"legend":{"title":null,"labelExpr":"datum.label === 'HeadL' || datum.label === 'HeadR' ? 'Head' : datum.label"}},
   "detail":{"field":"k","type":"nominal"}}}
],"spacing":0,"bounds":"flush"},
{"hconcat":[
 {"width":51,"height":10,"data":{"name":"blank"},"mark":{"type":"point","opacity":0},"encoding":{}},
 {"width":186,"height":129,"data":{"name":"traces"},"transform":[{"filter":"datum.p === 'LP'"},{"flatten":["x","y"]}],
  "mark":{"type":"line","strokeWidth":1,"interpolate":"monotone","opacity":0.85},
  "encoding":{"x":{"field":"x","type":"quantitative","scale":{"domain":[-140,560],"nice":false,"zero":false},"axis":{"values":[-140,0,500,560],"labelExpr":"datum.value === 500 ? '' : datum.label","title":"Left posterior (LP) gain: 0.30"}},
   "y":{"field":"y","type":"quantitative","scale":{"domain":[-100,300],"nice":false},"axis":{"values":[-100,0,100,200,300],"title":"Head and eye velocity"}},
   "color":{"field":"t","type":"nominal","scale":{"domain":["HeadL","HeadR","Saccade","VOR"],"range":["#9dcbee","#f5b984","#e0592a","#3f9e3a"]},"legend":{"title":null,"labelExpr":"datum.label === 'HeadL' || datum.label === 'HeadR' ? 'Head' : datum.label"}},
   "detail":{"field":"k","type":"nominal"}}},
 {"width":186,"height":129,"data":{"name":"traces"},"transform":[{"filter":"datum.p === 'RP'"},{"flatten":["x","y"]}],
  "mark":{"type":"line","strokeWidth":1,"interpolate":"monotone","opacity":0.85},
  "encoding":{"x":{"field":"x","type":"quantitative","scale":{"domain":[-140,560],"nice":false,"zero":false},"axis":{"values":[-140,0,500,560],"labelExpr":"datum.value === 500 ? '' : datum.label","title":"Right posterior (RP) gain: 0.58"}},
   "y":{"field":"y","type":"quantitative","scale":{"domain":[-100,300],"nice":false},"axis":{"values":[-100,0,100,200,300],"title":"Head and eye velocity"}},
   "color":{"field":"t","type":"nominal","scale":{"domain":["HeadL","HeadR","Saccade","VOR"],"range":["#9dcbee","#f5b984","#e0592a","#3f9e3a"]},"legend":{"title":null,"labelExpr":"datum.label === 'HeadL' || datum.label === 'HeadR' ? 'Head' : datum.label"}},
   "detail":{"field":"k","type":"nominal"}}}
],"spacing":74,"bounds":"flush"}
]
}
